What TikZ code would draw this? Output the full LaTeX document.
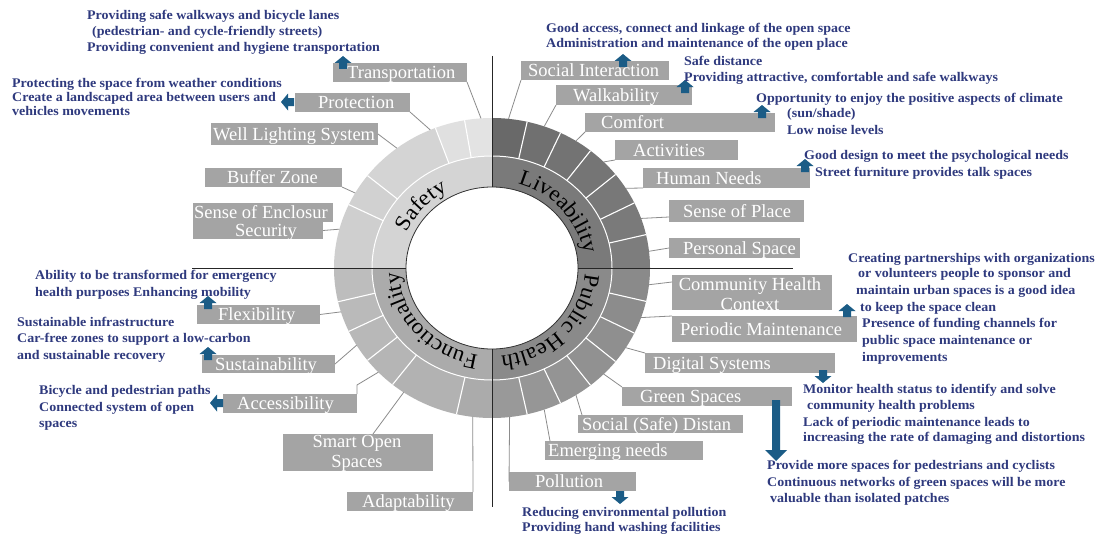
\documentclass[tikz,border=0pt]{standalone}
\usepackage{fontspec}
\setmainfont{Liberation Serif}[FakeStretch=1.06]
\newfontfamily\boxfont{Liberation Serif}
\usetikzlibrary{fit,decorations.text}

\definecolor{boxgray}{HTML}{A4A4A4}
\definecolor{inkblue}{HTML}{2F3A7E}
\definecolor{arrowblue}{HTML}{1B5C86}
\definecolor{leadergray}{HTML}{8C8C8C}

\newcommand\catfont{\fontsize{22}{22}\selectfont}

\tikzset{
  gbox/.style={fill=boxgray, draw=none, inner sep=0pt, outer sep=0pt},
  gtext/.style={text=white, font=\boxfont\fontsize{18.5}{20}\selectfont, inner sep=0pt, anchor=base west},
  btext/.style={text=inkblue, font=\bfseries\fontsize{13.2}{16}\selectfont, inner sep=0pt, anchor=base west},
  leader/.style={draw=leadergray, line width=0.8pt},
  axisline/.style={draw=black!85, line width=1pt},
  sepline/.style={draw=white, line width=1.1pt},
  blk/.pic={\fill[arrowblue] (-4,0) -- (-4,-6) -- (-8.5,-6) -- (0,-13) -- (8.5,-6) -- (4,-6) -- (4,0) -- cycle;}
}

% grey label box: name, x1, y1, x2, y2, text x, text
\newcommand\gbox[7]{%
  \node[gbox, fit={(#2,#3) (#4,#5)}] (b-#1) {};
  \node[gtext] (t-#1) at (#6,{(#3+#5)/2+6.3}) {#7};
}
% one line of blue note text: name, x, centre y, text
\newcommand\bl[4]{\node[btext] (#1) at (#2,{#3+4.5}) {#4};}
% ring pieces
\newcommand\outerseg[3]{\fill[#3] (#1:158 and 150) arc[start angle=#1, end angle=#2, x radius=158, y radius=150] -- (#2:120 and 112) arc[start angle=#2, end angle=#1, x radius=120, y radius=112] -- cycle;}
\newcommand\bandseg[3]{\fill[#3] (#1:120 and 112) arc[start angle=#1, end angle=#2, x radius=120, y radius=112] -- (#2:86 and 81) arc[start angle=#2, end angle=#1, x radius=86, y radius=81] -- cycle;}

\begin{document}
\begin{tikzpicture}[x=1pt, y=-1pt]
\path[use as bounding box, fill=white] (0,0) rectangle (1100,535);

% ---------- the ring ----------
\begin{scope}[shift={(492,268)}, y=1pt]
  % Safety
  \outerseg{90}{100}{black!11}
  \outerseg{100}{111}{black!12}
  \outerseg{111}{142}{black!17}
  \outerseg{142}{155}{black!18}
  \outerseg{155}{180}{black!19}
  \bandseg{90}{180}{black!17}
  % Liveability
  \outerseg{77.14}{90}{black!59}
  \outerseg{64.29}{77.14}{black!56}
  \outerseg{51.43}{64.29}{black!55}
  \outerseg{38.57}{51.43}{black!54}
  \outerseg{25.71}{38.57}{black!53}
  \outerseg{12.86}{25.71}{black!52}
  \outerseg{0}{12.86}{black!51}
  \bandseg{0}{90}{black!52}
  % Public Health
  \outerseg{-12.86}{0}{black!46}
  \outerseg{-25.71}{-12.86}{black!45}
  \outerseg{-38.57}{-25.71}{black!44}
  \outerseg{-51.43}{-38.57}{black!43}
  \outerseg{-64.29}{-51.43}{black!42}
  \outerseg{-77.14}{-64.29}{black!41}
  \outerseg{-90}{-77.14}{black!40}
  \bandseg{-90}{0}{black!46}
  % Functionality
  \outerseg{180}{193}{black!26}
  \outerseg{193}{205}{black!27}
  \outerseg{205}{218}{black!28}
  \outerseg{218}{231}{black!29}
  \outerseg{231}{257}{black!30}
  \outerseg{257}{270}{black!33}
  \bandseg{180}{270}{black!33}
  % white separators
  \foreach \a in {100,111,142,155,77.14,64.29,51.43,38.57,25.71,12.86,-12.86,-25.71,-38.57,-51.43,-64.29,-77.14,193,205,218,231,257}
    \draw[sepline] (\a:120 and 112) -- (\a:158 and 150);
  \draw[white, line width=1pt] (0,0) ellipse[x radius=120, y radius=112];
  \draw[black!80, line width=0.8pt] (0,0) ellipse[x radius=86, y radius=81];
  % category names
  \path[decorate, decoration={text along path, text={|\catfont|Safety}, text align=center}]
    (185:93 and 88) arc[start angle=185, end angle=91, x radius=93, y radius=88];
  \path[decorate, decoration={text along path, text={|\catfont|Liveability}, text align=center}]
    (88:93 and 88) arc[start angle=88, end angle=-6, x radius=93, y radius=88];
  \path[decorate, decoration={text along path, text={|\catfont|Public Health}, text align=center}]
    (1:93 and 88) arc[start angle=1, end angle=-89, x radius=93, y radius=88];
  \path[decorate, decoration={text along path, text={|\catfont|Functionality}, text align=center}]
    (267:93 and 88) arc[start angle=267, end angle=177, x radius=93, y radius=88];
  % leader start points on the rim
  \coordinate (r-trans) at (94:158 and 150);
  \coordinate (r-prot) at (113:158 and 150);
  \coordinate (r-well) at (127:158 and 150);
  \coordinate (r-buffer) at (150:158 and 150);
  \coordinate (r-sec) at (165:158 and 150);
  \coordinate (r-soc) at (84:158 and 150);
  \coordinate (r-walk) at (70.7:158 and 150);
  \coordinate (r-comf) at (57.9:158 and 150);
  \coordinate (r-act) at (45:158 and 150);
  \coordinate (r-hum) at (32.1:158 and 150);
  \coordinate (r-sop) at (19.3:158 and 150);
  \coordinate (r-pers) at (6.4:158 and 150);
  \coordinate (r-chc) at (-6.4:158 and 150);
  \coordinate (r-pm) at (-19.3:158 and 150);
  \coordinate (r-dig) at (-32.1:158 and 150);
  \coordinate (r-green) at (-45:158 and 150);
  \coordinate (r-sd) at (-57.9:158 and 150);
  \coordinate (r-emer) at (-70.7:158 and 150);
  \coordinate (r-poll) at (-83.6:158 and 150);
  \coordinate (r-flex) at (197:158 and 150);
  \coordinate (r-sust) at (211:158 and 150);
  \coordinate (r-acc) at (224:158 and 150);
  \coordinate (r-smart) at (236:158 and 150);
  \coordinate (r-adapt) at (263:158 and 150);
\end{scope}

% quadrant axes
\draw[axisline] (492,56) -- (492,187);
\draw[axisline] (492,349) -- (492,507);
\draw[axisline] (192,268) -- (406,268);
\draw[axisline] (578,268) -- (793,268);

% ---------- label boxes ----------
\gbox{trans}{333}{63}{467}{82}{347}{Transportation}
\gbox{prot}{295}{93}{410}{112}{318}{Protection}
\gbox{well}{211}{123}{378}{145}{213}{Well Lighting System}
\gbox{buffer}{205}{168}{342}{187}{227}{Buffer Zone}
\gbox{enc}{193}{203}{333}{222}{194}{Sense of Enclosur}
\gbox{sec}{193}{222}{323}{239}{235}{Security}

\gbox{soc}{521}{61}{669}{80}{528}{Social Interaction}
\gbox{walk}{556}{85}{692}{105}{573}{Walkability}
\gbox{comf}{585}{113}{775}{132}{601}{Comfort}
\gbox{act}{615}{140}{738}{160}{633}{Activities}
\gbox{hum}{643}{168}{810}{188}{656}{Human Needs}
\gbox{sop}{669}{200}{804}{222}{683}{Sense of Place}
\gbox{pers}{669}{238}{800}{258}{683}{Personal Space}

\node[gbox, fit={(672,275) (832,310)}] (b-chc) {};
\node[gtext, anchor=center, align=center] (t-chc) at (750,294) {Community Health\\Context};
\gbox{pm}{672}{316}{857}{342}{680}{Periodic Maintenance}
\gbox{dig}{645}{353}{835}{373}{653}{Digital Systems}
\gbox{green}{622}{387}{792}{406}{640}{Green Spaces}
\gbox{sd}{578}{415}{743}{433}{582}{Social (Safe) Distan}
\gbox{emer}{545}{441}{703}{460}{548}{Emerging needs}
\gbox{poll}{509}{472}{636}{491}{535}{Pollution}

\gbox{flex}{197}{305}{320}{324}{218}{Flexibility}
\gbox{sust}{202}{355}{335}{373}{215}{Sustainability}
\gbox{acc}{223}{394}{357}{413}{237}{Accessibility}
\node[gbox, fit={(283,434) (433,471)}] (b-smart) {};
\node[gtext, anchor=center, align=center] (t-smart) at (357,453) {Smart Open\\Spaces};
\gbox{adapt}{347}{492}{473}{511}{362}{Adaptability}

% ---------- leaders from the rim to the boxes ----------
\draw[leader] (r-trans) -- (b-trans.south east);
\draw[leader] (r-prot) -- (b-prot.south east);
\draw[leader] (r-well) -- (b-well.east);
\draw[leader] (r-buffer) -- (b-buffer.south east);
\draw[leader] (r-sec) -- (b-sec.east);
\draw[leader] (r-soc) -- (b-soc.south west);
\draw[leader] (r-walk) -- (b-walk.south west);
\draw[leader] (r-comf) -- (b-comf.south west);
\draw[leader] (r-act) -- (b-act.south west);
\draw[leader] (r-hum) -- (b-hum.south west);
\draw[leader] (r-sop) -- ([yshift=-6pt]b-sop.west);
\draw[leader] (r-pers) -- (b-pers.west);
\draw[leader] (r-chc) -- ([yshift=-7pt]b-chc.north west);
\draw[leader] (r-pm) -- (b-pm.north west);
\draw[leader] (r-dig) -- (b-dig.north west);
\draw[leader] (r-green) -- (b-green.north west);
\draw[leader] (r-sd) -- ([xshift=4pt]b-sd.north west);
\draw[leader] (r-emer) -- ([xshift=5pt]b-emer.north west);
\draw[leader] (r-poll) -- (b-poll.west);
\draw[leader] (r-flex) -- (b-flex.east);
\draw[leader] (r-sust) -- (b-sust.east);
\draw[leader] (r-acc) -- ([yshift=9pt]b-acc.north east) -- (b-acc.north east);
\draw[leader] (r-smart) -- ([xshift=15pt]b-smart.north);
\draw[leader] (r-adapt) -- (b-adapt.north east);

% ---------- pointer arrows ----------
\pic at (343,69) {blk};
\pic[rotate=90] at (294,102) {blk};
\pic at (623,67) {blk};
\pic at (685,93) {blk};
\pic at (762,118) {blk};
\pic at (805,172) {blk};
\pic at (847,317) {blk};
\pic[rotate=180] at (823,370) {blk};
\pic[rotate=180] at (620,491) {blk};
\pic at (208,309) {blk};
\pic at (208,360) {blk};
\pic[rotate=90] at (223,403) {blk};
\fill[arrowblue] (772,400) -- (772,450) -- (765,450) -- (776,461) -- (787,450) -- (780,450) -- (780,400) -- cycle;

% ---------- notes ----------
\bl{tr1}{87}{15}{Providing safe walkways and bicycle lanes}
\bl{tr2}{92}{31}{(pedestrian- and cycle-friendly streets)}
\bl{tr3}{87}{47}{Providing convenient and hygiene transportation}
\bl{pr1}{12}{83}{Protecting the space from weather conditions}
\bl{pr2}{12}{97}{Create a landscaped area between users and}
\bl{pr3}{12}{111}{vehicles movements}
\bl{so1}{546}{28}{Good access, connect and linkage of the open space}
\bl{so2}{546}{43}{Administration and maintenance of the open place}
\bl{wa1}{684}{61}{Safe distance}
\bl{wa2}{684}{77}{Providing attractive, comfortable and safe walkways}
\bl{co1}{756}{98}{Opportunity to enjoy the positive aspects of climate}
\bl{co2}{787}{113}{(sun/shade)}
\bl{co3}{787}{130}{Low noise levels}
\bl{hn1}{804}{155}{Good design to meet the psychological needs}
\bl{hn2}{815}{172}{Street furniture provides talk spaces}
\bl{pm1}{848}{258}{Creating partnerships with organizations}
\bl{pm2}{858}{273}{or volunteers people to sponsor and}
\bl{pm3}{856}{290}{maintain urban spaces is a good idea}
\bl{pm4}{860}{307}{to keep the space clean}
\bl{pm5}{862}{323}{Presence of funding channels for}
\bl{pm6}{862}{340}{public space maintenance or}
\bl{pm7}{862}{357}{improvements}
\bl{ds1}{803}{389}{Monitor health status to identify and solve}
\bl{ds2}{807}{405}{community health problems}
\bl{ds3}{803}{422}{Lack of periodic maintenance leads to}
\bl{ds4}{803}{437}{increasing the rate of damaging and distortions}
\bl{gs1}{767}{465}{Provide more spaces for pedestrians and cyclists}
\bl{gs2}{767}{482}{Continuous networks of green spaces will be more}
\bl{gs3}{770}{498}{valuable than isolated patches}
\bl{po1}{522}{512}{Reducing environmental pollution}
\bl{po2}{522}{527}{Providing hand washing facilities}
\bl{fl1}{35}{275}{Ability to be transformed for emergency}
\bl{fl2}{35}{292}{health purposes Enhancing mobility}
\bl{su1}{17}{322}{Sustainable infrastructure}
\bl{su2}{17}{338}{Car-free zones to support a low-carbon}
\bl{su3}{17}{355}{and sustainable recovery}
\bl{ac1}{39}{390}{Bicycle and pedestrian paths}
\bl{ac2}{39}{407}{Connected system of open}
\bl{ac3}{39}{423}{spaces}
\end{tikzpicture}
\end{document}
